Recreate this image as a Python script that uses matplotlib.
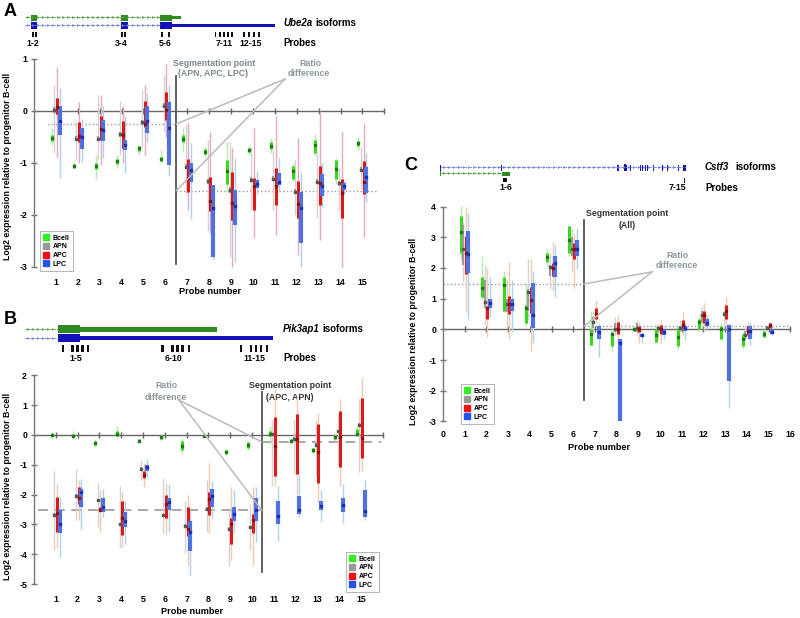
import matplotlib
matplotlib.use('Agg')
import matplotlib.pyplot as plt
from matplotlib.lines import Line2D
from matplotlib.patches import Rectangle
import numpy as np

plt.rcParams['font.family'] = ['Liberation Sans', 'DejaVu Sans']
plt.rcParams['font.weight'] = 'bold'

PROBES = list(range(1, 16))
GROUPS = ['Bcell', 'APN', 'APC', 'LPC']

# ---------------- Panel A (Ube2a) ----------------
A_BCELL_MED = [-0.52, -1.05, -1.06, -0.97, -0.72, -0.92, -0.53, -0.78, -1.15, -0.75, -0.67, -1.15, -0.65, -1.12, -0.62]
A_BCELL_BHI = [-0.47, -1.01, -1.00, -0.93, -0.68, -0.88, -0.47, -0.74, -0.95, -0.71, -0.60, -1.05, -0.55, -0.95, -0.57]
A_BCELL_BLO = [-0.57, -1.09, -1.12, -1.01, -0.76, -0.96, -0.60, -0.82, -1.40, -0.79, -0.74, -1.30, -0.80, -1.30, -0.67]
A_BCELL_WHI = [-0.33, -0.98, -0.85, -0.85, -0.65, -0.75, -0.33, -0.70, -0.60, -0.65, -0.52, -1.00, -0.45, -0.90, -0.50]
A_BCELL_WLO = [-0.65, -1.10, -1.30, -1.10, -0.85, -1.00, -0.78, -0.88, -1.55, -0.85, -0.80, -1.35, -0.85, -1.40, -0.75]

A_APN_MED = [0.02, -0.53, -0.53, -0.45, -0.22, 0.10, -1.07, -1.35, -1.52, -1.32, -1.30, -1.55, -1.36, -1.39, -1.13]
A_APN_BHI = [0.08, -0.48, -0.48, -0.40, -0.17, 0.15, -1.02, -1.30, -1.47, -1.27, -1.25, -1.50, -1.31, -1.34, -1.08]
A_APN_BLO = [-0.04, -0.58, -0.58, -0.50, -0.27, 0.05, -1.12, -1.40, -1.57, -1.37, -1.35, -1.60, -1.41, -1.44, -1.18]
A_APN_WHI = [0.50, -0.20, 0.30, 0.20, 0.40, 0.70, -0.25, -0.55, -0.60, -0.70, -0.75, -0.95, -0.80, -1.10, -0.70]
A_APN_WLO = [-0.80, -0.95, -0.95, -0.85, -0.70, -0.40, -1.60, -2.30, -2.80, -1.90, -1.90, -2.00, -2.05, -1.90, -1.50]

A_APC_MED = [0.08, -0.48, -0.35, -0.47, -0.25, 0.02, -1.28, -1.73, -1.76, -1.44, -1.44, -1.78, -1.39, -1.57, -1.37]
A_APC_BHI = [0.25, -0.22, -0.10, -0.20, 0.20, 0.37, -0.92, -1.26, -1.17, -1.28, -1.10, -1.35, -1.06, -1.31, -0.97]
A_APC_BLO = [-0.05, -0.60, -0.55, -0.72, -0.30, -0.17, -1.55, -1.92, -2.10, -1.90, -1.80, -2.06, -1.80, -2.06, -1.60]
A_APC_WHI = [0.85, 0.18, 0.30, 0.10, 0.50, 0.90, -0.24, -0.40, -0.72, -0.33, -0.10, -0.51, 0.00, -0.41, -0.24]
A_APC_WLO = [-0.90, -1.00, -1.03, -1.00, -0.85, -0.50, -1.90, -2.35, -3.00, -2.45, -2.38, -2.77, -2.48, -3.00, -2.42]

A_LPC_MED = [-0.20, -0.50, -0.36, -0.65, -0.20, -0.33, -1.13, -1.86, -1.82, -1.40, -1.36, -1.86, -1.45, -1.44, -1.26]
A_LPC_BHI = [0.10, -0.32, -0.18, -0.55, 0.10, 0.18, -1.00, -1.42, -1.52, -1.33, -1.20, -1.56, -1.21, -1.39, -1.08]
A_LPC_BLO = [-0.47, -0.73, -0.58, -0.75, -0.42, -1.03, -1.36, -2.80, -2.20, -1.48, -1.42, -2.53, -1.63, -1.52, -1.57]
A_LPC_WHI = [0.45, -0.15, 0.10, -0.10, 0.35, 0.50, -0.62, -1.42, -0.90, -1.15, -0.90, -1.20, -1.00, -1.35, -0.80]
A_LPC_WLO = [-1.28, -0.98, -0.90, -1.20, -0.60, -1.25, -2.08, -2.85, -2.90, -1.60, -1.55, -3.00, -1.85, -1.60, -1.75]

# ---------------- Panel B (Pik3ap1) ----------------
B_BCELL_MED = [0.00, -0.03, -0.26, 0.05, -0.19, -0.08, -0.36, -0.03, -0.56, -0.34, 0.02, -0.20, -0.50, -0.06, 0.05]
B_BCELL_BHI = [0.03, 0.03, -0.20, 0.15, -0.15, -0.02, -0.20, -0.01, -0.50, -0.25, 0.15, -0.15, -0.43, 0.00, 0.20]
B_BCELL_BLO = [-0.03, -0.08, -0.32, -0.05, -0.23, -0.14, -0.50, -0.05, -0.62, -0.43, -0.05, -0.25, -0.57, -0.12, 0.00]
B_BCELL_WHI = [0.10, 0.15, -0.15, 0.30, -0.12, 0.05, -0.10, 0.00, -0.45, -0.20, 0.30, -0.10, -0.40, 0.05, 0.30]
B_BCELL_WLO = [-0.15, -0.15, -0.40, -0.10, -0.25, -0.20, -0.60, -0.05, -0.70, -0.50, -0.30, -0.30, -0.65, -0.20, -0.05]

B_APN_MED = [-2.67, -2.04, -2.19, -3.00, -1.13, -2.70, -3.05, -2.48, -3.15, -3.10, 0.03, -0.12, -0.33, 0.12, 0.35]
B_APN_BHI = [-2.62, -1.99, -2.14, -2.95, -1.08, -2.65, -3.00, -2.43, -3.10, -3.05, 0.08, -0.07, -0.28, 0.17, 0.40]
B_APN_BLO = [-2.72, -2.09, -2.24, -3.05, -1.18, -2.75, -3.10, -2.53, -3.20, -3.15, -0.02, -0.17, -0.38, 0.07, 0.30]
B_APN_WHI = [-1.22, -1.15, -1.60, -1.70, -0.85, -1.45, -2.20, -1.50, -2.50, -2.30, 0.50, 0.50, 0.50, 0.70, 1.20]
B_APN_WLO = [-3.85, -2.85, -3.10, -3.80, -1.50, -3.30, -3.95, -3.25, -4.40, -3.85, -1.70, -1.30, -1.35, -1.00, -1.25]

B_APC_MED = [-2.62, -2.12, -2.50, -2.79, -1.34, -2.33, -3.14, -2.15, -2.99, -2.85, -0.36, -0.12, -0.58, -0.08, -0.10]
B_APC_BHI = [-2.09, -1.76, -2.42, -2.22, -1.20, -2.02, -2.40, -1.90, -2.80, -2.65, 0.59, 0.72, 0.38, 0.80, 1.25]
B_APC_BLO = [-3.24, -2.30, -2.55, -3.35, -1.45, -2.80, -3.40, -2.70, -3.65, -3.30, -1.36, -1.30, -1.61, -1.08, -0.78]
B_APC_WHI = [-1.65, -1.50, -1.85, -1.90, -0.95, -1.60, -2.00, -0.95, -1.75, -1.75, 1.50, 1.30, 0.75, 1.20, 1.90]
B_APC_WLO = [-3.80, -2.85, -3.25, -3.75, -1.75, -3.35, -4.40, -3.30, -4.20, -4.35, -1.70, -2.00, -2.25, -1.70, -1.20]

B_LPC_MED = [-2.97, -1.91, -2.43, -2.88, -1.09, -2.25, -3.26, -2.05, -2.64, -2.53, -2.73, -2.50, -2.38, -2.35, -2.56]
B_LPC_BHI = [-2.50, -1.80, -2.10, -2.60, -1.00, -2.10, -2.90, -1.80, -2.40, -2.10, -2.20, -2.05, -2.20, -2.10, -1.85]
B_LPC_BLO = [-3.30, -2.40, -2.60, -3.10, -1.20, -2.50, -3.90, -2.40, -2.90, -2.90, -3.00, -2.65, -2.50, -2.60, -2.75]
B_LPC_WHI = [-2.09, -1.47, -1.80, -2.20, -0.80, -1.65, -2.50, -1.55, -1.85, -1.75, -1.70, -1.35, -1.85, -1.65, -1.50]
B_LPC_WLO = [-4.10, -3.15, -2.75, -3.65, -1.40, -3.25, -4.70, -2.80, -3.30, -3.60, -3.57, -2.75, -2.90, -2.95, -2.85]

# ---------------- Panel C (Cstf3) ----------------
C_BCELL_MED = [3.18, 1.36, 1.45, 0.68, 2.35, 2.90, -0.15, -0.15, 0.00, -0.20, -0.25, 0.25, 0.00, -0.30, -0.15]
C_BCELL_BHI = [3.70, 1.70, 1.70, 0.80, 2.50, 3.35, 0.00, -0.10, 0.05, 0.00, 0.05, 0.35, 0.10, -0.15, -0.05]
C_BCELL_BLO = [2.50, 1.05, 0.60, 0.20, 2.20, 2.50, -0.50, -0.55, -0.05, -0.40, -0.55, 0.00, -0.30, -0.55, -0.25]
C_BCELL_WHI = [4.02, 2.40, 1.90, 1.50, 2.60, 3.40, 0.60, 0.00, 0.10, 0.10, 0.10, 0.45, 0.20, -0.10, 0.00]
C_BCELL_WLO = [2.26, 1.00, 0.55, 0.10, 2.05, 2.40, -0.55, -0.70, -0.10, -0.45, -0.65, -0.05, -0.35, -0.65, -0.25]

C_APN_MED = [2.60, 0.90, 0.83, 1.23, 2.03, 2.60, 0.25, 0.00, 0.05, 0.05, 0.05, 0.45, 0.50, -0.20, 0.05]
C_APN_BHI = [3.40, 1.60, 1.00, 1.30, 2.10, 3.00, 0.40, 0.20, 0.20, 0.10, 0.10, 0.60, 0.55, -0.05, 0.10]
C_APN_BLO = [2.10, 0.70, 0.55, 0.60, 1.75, 2.40, 0.05, -0.10, -0.10, -0.10, -0.05, 0.25, 0.45, -0.30, 0.00]
C_APN_WHI = [3.50, 2.10, 1.60, 2.30, 2.50, 3.30, 0.60, 0.40, 0.30, 0.20, 0.30, 0.75, 0.60, 0.10, 0.15]
C_APN_WLO = [1.55, 0.15, 0.10, 0.30, 1.30, 1.90, -0.10, -0.20, -0.20, -0.30, -0.10, 0.05, 0.05, -0.35, -0.05]

C_APC_MED = [2.50, 0.68, 0.83, 0.95, 2.00, 2.60, 0.50, 0.00, 0.00, 0.00, 0.15, 0.45, 0.60, -0.05, 0.15]
C_APC_BHI = [3.04, 0.75, 1.10, 1.37, 2.15, 2.80, 0.70, 0.25, 0.10, 0.15, 0.30, 0.60, 0.80, 0.10, 0.20]
C_APC_BLO = [1.80, 0.35, 0.50, 0.52, 1.75, 2.30, 0.35, -0.15, -0.10, -0.15, 0.00, 0.20, 0.35, -0.20, 0.05]
C_APC_WHI = [4.00, 2.00, 2.20, 2.30, 2.85, 3.10, 0.95, 0.45, 0.25, 0.30, 0.55, 0.85, 1.05, 0.25, 0.25]
C_APC_WLO = [0.55, -0.25, -0.30, -0.70, 1.25, 1.35, 0.20, -0.40, -0.45, -0.45, -0.20, -0.05, 0.00, -0.30, 0.00]

C_LPC_MED = [2.45, 0.85, 0.83, 0.47, 2.15, 2.62, -0.10, -0.45, -0.20, -0.10, 0.05, 0.20, 0.00, -0.05, -0.10]
C_LPC_BHI = [3.20, 1.00, 1.00, 1.50, 2.40, 2.90, 0.10, -0.30, -0.15, 0.00, 0.10, 0.35, 0.15, 0.10, 0.00]
C_LPC_BLO = [1.83, 0.70, 0.60, 0.05, 1.70, 2.40, -0.30, -3.00, -0.25, -0.20, -0.05, 0.10, -1.70, -0.30, -0.15]
C_LPC_WHI = [3.80, 1.70, 1.60, 1.90, 2.75, 3.30, 0.20, -0.30, -0.10, 0.10, 0.20, 0.45, 0.20, 0.20, 0.10]
C_LPC_WLO = [0.35, 0.40, -0.10, -0.45, 1.05, 1.95, -0.90, -3.00, -0.45, -0.30, -0.35, 0.00, -2.55, -0.50, -0.20]

# reference levels (ratio) and segmentation points
A_LEVELS = [-0.25, -1.53]
B_LEVELS = [-2.53, -0.23]
C_LEVELS = [1.48, 0.10]
A_SEG, B_SEG, C_SEG = 6.5, 10.45, 6.5

# ---------------- styling ----------------
W, H = 800, 618
OFFS = {'Bcell': -0.19, 'APN': -0.07, 'APC': 0.05, 'LPC': 0.17}
BOX = {'Bcell': '#38d81c', 'APN': '#9c9c9c', 'APC': '#e01818', 'LPC': '#4f72e0'}
MEDC = {'Bcell': '#1e7a12', 'APN': '#555555', 'APC': '#8b1010', 'LPC': '#1c2fb0'}
BW = {'Bcell': 2.2, 'APN': 1.6, 'APC': 2.2, 'LPC': 3.0}
LEGC = {'Bcell': '#33ee22', 'APN': '#999999', 'APC': '#ee1111', 'LPC': '#2255ee'}

fig = plt.figure(figsize=(8, 6.18), dpi=100)

ov = fig.add_axes([0, 0, 1, 1])
ov.set_xlim(0, W)
ov.set_ylim(H, 0)
ov.axis('off')
ov.patch.set_alpha(0)


def add_panel(x0, y0, ppx, ppy, xlim, ylim):
    left = x0 + ppx * xlim[0]
    right = x0 + ppx * xlim[1]
    top = y0 - ppy * ylim[1]
    bottom = y0 - ppy * ylim[0]
    ax = fig.add_axes([left / W, 1 - bottom / H, (right - left) / W, (bottom - top) / H])
    ax.set_xlim(xlim)
    ax.set_ylim(ylim)
    ax.patch.set_alpha(0)
    return ax


def style(ax, yticks, xticks, xend, xpad):
    for s in ['top', 'right', 'bottom']:
        ax.spines[s].set_visible(False)
    ax.spines['left'].set_position(('data', 0))
    ax.spines['left'].set_bounds(yticks[0], yticks[-1])
    ax.spines['left'].set_color('#777777')
    ax.spines['left'].set_linewidth(1.0)
    ax.set_yticks(yticks)
    ax.set_yticklabels([str(t) for t in yticks])
    ax.tick_params(axis='y', direction='inout', length=5, width=1, color='#777777',
                   labelsize=6.3, pad=2.5)
    ax.set_xticks(xticks)
    ax.set_xticklabels([str(t) for t in xticks])
    ax.tick_params(axis='x', length=0, labelsize=6.3, pad=xpad)
    ax.plot([0, xend], [0, 0], color='#666666', lw=1.0, zorder=1)
    ticks = list(range(1, 17))
    ax.plot(ticks, [0] * len(ticks), ls='none', marker='|', ms=5, mew=1.0,
            color='#666666', zorder=1)


def draw(ax, data, wcol):
    for g in GROUPS:
        med, blo, bhi, wlo, whi = data[g]
        xs = np.array(PROBES) + OFFS[g]
        ax.vlines(xs, wlo, whi, color=wcol[g], lw=1.0, zorder=2)
        ax.vlines(xs, blo, bhi, color=BOX[g], lw=BW[g], zorder=3)
        ax.plot(xs, med, ls='none', marker='s', ms=1.8, color=MEDC[g], zorder=4)


def legend(ax, px, py):
    hs = [Line2D([], [], ls='none', marker='s', ms=4.5, color=LEGC[g]) for g in GROUPS]
    lg = ax.legend(hs, GROUPS, loc='upper left', bbox_to_anchor=(px / W, 1 - py / H),
                   bbox_transform=fig.transFigure, fontsize=5, handlelength=0.8,
                   handletextpad=0.5, borderpad=0.45, labelspacing=0.25,
                   fancybox=False, framealpha=1)
    lg.get_frame().set_edgecolor('#aaaaaa')
    lg.get_frame().set_linewidth(0.6)


WH_A = {'Bcell': '#b5ecaa', 'APN': '#d3d3d3', 'APC': '#eba8b8', 'LPC': '#a9d3f0'}
WH_BC = {'Bcell': '#b5ecaa', 'APN': '#d3d3d3', 'APC': '#f6c9ac', 'LPC': '#a9d3f0'}

# ---------- Panel A ----------
axA = add_panel(34, 111, 21.9, 52, (-0.6, 16.3), (-3.15, 1.15))
style(axA, [-3, -2, -1, 0, 1], PROBES, 16, 2.3)
for lv, (x1, x2) in zip(A_LEVELS, [(0.64, A_SEG), (A_SEG, 15.6)]):
    axA.plot([x1, x2], [lv, lv], ls=':', color='#999999', lw=1.0, zorder=1)
axA.plot([A_SEG, A_SEG], [0.68, -2.95], color='#555555', lw=1.3, zorder=5)
for lv in A_LEVELS:
    axA.plot([11.46, A_SEG], [0.615, lv], color='#bbbbbb', lw=1.1, clip_on=False, zorder=5)
draw(axA, {'Bcell': (A_BCELL_MED, A_BCELL_BLO, A_BCELL_BHI, A_BCELL_WLO, A_BCELL_WHI),
           'APN': (A_APN_MED, A_APN_BLO, A_APN_BHI, A_APN_WLO, A_APN_WHI),
           'APC': (A_APC_MED, A_APC_BLO, A_APC_BHI, A_APC_WLO, A_APC_WHI),
           'LPC': (A_LPC_MED, A_LPC_BLO, A_LPC_BHI, A_LPC_WLO, A_LPC_WHI)}, WH_A)
legend(axA, 37, 228)

# ---------- Panel B ----------
axB = add_panel(34, 435, 21.8, 29.8, (-0.6, 16.3), (-5.15, 2.15))
style(axB, [-5, -4, -3, -2, -1, 0, 1, 2], PROBES, 16, 4.5)
for lv, (x1, x2) in zip(B_LEVELS, [(0.2, B_SEG), (B_SEG, 15.9)]):
    axB.plot([x1, x2], [lv, lv], ls=(0, (6, 4)), color='#999999', lw=1.2, zorder=1)
axB.plot([B_SEG, B_SEG], [1.45, -4.6], color='#555555', lw=1.3, zorder=5)
for lv in B_LEVELS:
    axB.plot([6.65, B_SEG], [1.17, lv], color='#bbbbbb', lw=1.1, clip_on=False, zorder=5)
draw(axB, {'Bcell': (B_BCELL_MED, B_BCELL_BLO, B_BCELL_BHI, B_BCELL_WLO, B_BCELL_WHI),
           'APN': (B_APN_MED, B_APN_BLO, B_APN_BHI, B_APN_WLO, B_APN_WHI),
           'APC': (B_APC_MED, B_APC_BLO, B_APC_BHI, B_APC_WLO, B_APC_WHI),
           'LPC': (B_LPC_MED, B_LPC_BLO, B_LPC_BHI, B_LPC_WLO, B_LPC_WHI)}, WH_BC)
legend(axB, 343, 549)

# ---------- Panel C ----------
axC = add_panel(443, 329.3, 21.7, 30.7, (-0.6, 16.3), (-3.15, 4.15))
style(axC, [-3, -2, -1, 0, 1, 2, 3, 4], list(range(0, 17)), 16, 3.0)
for lv, (x1, x2) in zip(C_LEVELS, [(0.0, C_SEG), (C_SEG, 16.0)]):
    axC.plot([x1, x2], [lv, lv], ls=':', color='#999999', lw=1.0, zorder=1)
axC.plot([C_SEG, C_SEG], [3.55, -2.3], color='#555555', lw=1.3, zorder=5)
for lv in C_LEVELS:
    axC.plot([9.63, C_SEG], [1.87, lv], color='#bbbbbb', lw=1.1, clip_on=False, zorder=5)
draw(axC, {'Bcell': (C_BCELL_MED, C_BCELL_BLO, C_BCELL_BHI, C_BCELL_WLO, C_BCELL_WHI),
           'APN': (C_APN_MED, C_APN_BLO, C_APN_BHI, C_APN_WLO, C_APN_WHI),
           'APC': (C_APC_MED, C_APC_BLO, C_APC_BHI, C_APC_WLO, C_APC_WHI),
           'LPC': (C_LPC_MED, C_LPC_BLO, C_LPC_BHI, C_LPC_WLO, C_LPC_WHI)}, WH_BC)
legend(axC, 458, 381)

# ---------------- text (overlay, pixel coordinates) ----------------
FS = 6.3
GRAY_T = '#8a9799'
SEG_A = '#7a8789'
DARK = '#333333'


def t(x, y, s, **kw):
    kw.setdefault('fontsize', FS)
    kw.setdefault('ha', 'center')
    kw.setdefault('va', 'center')
    ov.text(x, y, s, **kw)


# panel letters
t(10, 12, 'A', fontsize=13)
t(10, 320, 'B', fontsize=13)
t(411, 165, 'C', fontsize=13)

# axis labels
YL = 'Log2 expression relative to progenitor B-cell'
t(8, 166, YL, rotation=90)
t(8, 486, YL, rotation=90)
t(413, 331, YL, rotation=90)
t(210, 292, 'Probe number', fontsize=6.6)
t(192, 612, 'Probe number', fontsize=6.6)
t(599, 448, 'Probe number', fontsize=6.6)

# annotations
t(214, 63, 'Segmentation point', color=SEG_A)
t(213, 74, '(APN, APC, LPC)', color=SEG_A)
t(310, 63, 'Ratio', color=GRAY_T)
t(309, 74, 'difference', color=GRAY_T)

t(166, 386, 'Ratio', color=GRAY_T)
t(166, 397, 'difference', color=GRAY_T)
t(290, 386, 'Segmentation point', color=DARK)
t(290, 397, '(APC, APN)', color=DARK)

t(627, 214, 'Segmentation point', color=DARK)
t(627, 225, '(All)', color=DARK)
t(677, 255, 'Ratio', color=GRAY_T)
t(677, 266, 'difference', color=GRAY_T)

# ---------------- gene diagrams ----------------
GREEN = '#2f8a22'
BLUE = '#1212b8'
LBLUE = '#6f82d8'
LGREEN = '#4fa040'


def arrow_line(x1, x2, y, col):
    ov.plot([x1, x2], [y, y], color=col, lw=0.7, ls=(0, (1.5, 1)))
    xs = np.arange(x1 + 3, x2 - 1, 5.0)
    ov.plot(xs, [y] * len(xs), ls='none', marker='>', ms=2.0, color=col, mew=0)


def box(x, y, w, h, col):
    ov.add_patch(Rectangle((x, y), w, h, color=col, lw=0))


# A: Ube2a
arrow_line(25, 160, 17.3, LGREEN)
arrow_line(25, 160, 25.3, LBLUE)
for (x, w) in [(31, 6), (120.5, 7.5), (160, 12)]:
    box(x, 14.5, w, 6.5, GREEN)
    box(x, 22.3, w, 6.3, BLUE)
box(172, 15.8, 9, 3.6, GREEN)
box(172, 23.5, 103, 3.6, BLUE)
for x in [31.7, 34.7, 120.7, 123.9, 160.7, 168.4, 214.5, 218.6, 222.6, 226.6, 230.7,
          242.6, 247.6, 252.6, 257.6]:
    box(x, 32.3, 1.9, 5.0, '#111111')
t(32.7, 43, '1-2')
t(121, 43, '3-4')
t(165.7, 43, '5-6')
t(224.3, 43, '7-11')
t(251, 43, '12-15')
t(283, 23.3, 'Ube2a', ha='left', style='italic', fontsize=7)
t(315, 23.3, 'isoforms', ha='left', fontsize=7)
t(283, 43, 'Probes', ha='left', fontsize=7)

# B: Pik3ap1
arrow_line(25, 58, 329.3, LGREEN)
arrow_line(25, 58, 338.3, LBLUE)
box(58.3, 325, 21.7, 8.3, GREEN)
box(80, 327.4, 136.7, 4.3, GREEN)
box(58.3, 334.2, 21.7, 7.5, BLUE)
box(80, 336, 193.3, 4.2, BLUE)
for x in [61.7, 71.2, 76.2, 81.2, 86.7, 161.2, 171.2, 176.2, 181.2, 187.7,
          239.5, 249.5, 254.5, 259.5, 266.0]:
    box(x, 345, 2.3, 6.7, '#111111')
t(75.7, 358.3, '1-5')
t(173.3, 358.3, '6-10')
t(254.3, 358.3, '11-15')
t(283, 329.3, 'Pik3ap1', ha='left', style='italic', fontsize=7)
t(322, 329.3, 'isoforms', ha='left', fontsize=7)
t(283, 358.3, 'Probes', ha='left', fontsize=7)

# C: Cstf3
arrow_line(441, 685, 167.3, LBLUE)
arrow_line(441, 502, 173.3, LGREEN)
box(440.2, 164.5, 1.2, 6, BLUE)
box(501.2, 164.5, 1.2, 6, BLUE)
for x in [616.7, 618.3, 626, 630, 640, 642.3, 645, 647.3, 653.3, 661.7, 666.7, 678.3, 683.3]:
    box(x, 164.5, 1.0, 6, BLUE)
box(623.5, 164.0, 2.2, 7, BLUE)
box(684, 164.5, 1.8, 6, BLUE)
box(440.2, 171, 1.2, 5, GREEN)
box(501.7, 171.6, 8.3, 4.2, GREEN)
box(503.3, 178.3, 4.0, 3.4, '#111111')
box(683.5, 177.7, 1.8, 5.0, '#111111')
t(506, 187.3, '1-6')
t(677.7, 187.3, '7-15')
t(705, 167, 'Cstf3', ha='left', style='italic', fontsize=7)
t(735, 167, 'isoforms', ha='left', fontsize=7)
t(705, 188, 'Probes', ha='left', fontsize=7)

fig.savefig('out.png', dpi=100)
